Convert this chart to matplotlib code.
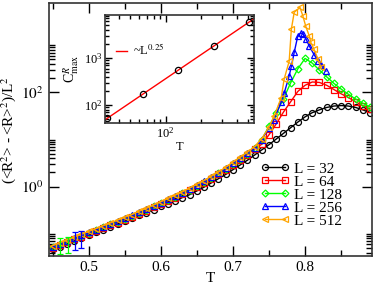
import math

import matplotlib
matplotlib.use("Agg")
import matplotlib.pyplot as plt
from matplotlib.ticker import FixedLocator, FuncFormatter, NullFormatter

plt.rcParams["font.family"] = ["Liberation Serif", "DejaVu Serif"]
plt.rcParams["mathtext.fontset"] = "stix"

# temperature grids
T_std = [0.45, 0.46, 0.47, 0.48, 0.49, 0.50, 0.51, 0.52, 0.53, 0.54,
         0.55, 0.56, 0.57, 0.58, 0.59, 0.60, 0.61, 0.62, 0.63, 0.64,
         0.65, 0.66, 0.67, 0.68, 0.69, 0.70, 0.71, 0.72, 0.73, 0.74,
         0.75, 0.76, 0.77, 0.78, 0.79, 0.80, 0.81, 0.82, 0.83, 0.84,
         0.85, 0.86, 0.87, 0.88, 0.89]
T_low = T_std[:30]
T_256_peak = [0.75, 0.757, 0.767, 0.771, 0.778, 0.781, 0.785, 0.790, 0.794,
              0.797, 0.801, 0.806, 0.8125, 0.818, 0.822, 0.829]
T_512_peak = [0.75, 0.757, 0.767, 0.771, 0.778, 0.781, 0.785, 0.793, 0.797,
              0.801, 0.806, 0.808, 0.8125, 0.818, 0.822]

# log10 of the fluctuation
log_32 = [-1.33, -1.27, -1.21, -1.15, -1.09, -1.03, -0.97, -0.91, -0.85, -0.79,
          -0.73, -0.67, -0.61, -0.55, -0.49, -0.42, -0.36, -0.30, -0.23, -0.17,
          -0.09, -0.01, 0.08, 0.17, 0.26, 0.36, 0.46, 0.56, 0.67, 0.78,
          0.89, 1.01, 1.13, 1.25, 1.37, 1.48, 1.57, 1.63, 1.68, 1.71,
          1.72, 1.71, 1.68, 1.63, 1.57]
log_64 = [-1.30, -1.24, -1.18, -1.12, -1.06, -1.00, -0.94, -0.88, -0.82, -0.76,
          -0.70, -0.64, -0.57, -0.51, -0.44, -0.37, -0.30, -0.23, -0.16, -0.08,
          0.00, 0.08, 0.17, 0.26, 0.36, 0.47, 0.57, 0.68, 0.80, 0.90,
          1.10, 1.33, 1.58, 1.80, 2.02, 2.15, 2.22, 2.21, 2.15, 2.06,
          1.97, 1.89, 1.80, 1.72, 1.65]
log_128 = [-1.28, -1.22, -1.16, -1.10, -1.04, -0.98, -0.92, -0.86, -0.80, -0.74,
           -0.68, -0.62, -0.55, -0.49, -0.42, -0.35, -0.28, -0.21, -0.14, -0.06,
           0.02, 0.10, 0.19, 0.28, 0.38, 0.49, 0.59, 0.70, 0.82, 1.00,
           1.28, 1.56, 1.86, 2.20, 2.50, 2.72, 2.62, 2.47, 2.33, 2.19,
           2.07, 1.96, 1.86, 1.77, 1.69]
log_256 = [-1.27, -1.21, -1.15, -1.09, -1.03, -0.97, -0.91, -0.85, -0.79, -0.73,
           -0.67, -0.61, -0.54, -0.48, -0.41, -0.34, -0.27, -0.20, -0.13, -0.05,
           0.03, 0.11, 0.20, 0.29, 0.39, 0.50, 0.60, 0.71, 0.83, 1.00,
           1.24, 1.42, 1.80, 1.98, 2.35, 2.55, 2.85, 3.20, 3.26, 3.24,
           3.14, 2.98, 2.80, 2.67, 2.58, 2.45]
log_512 = [-1.25, -1.19, -1.13, -1.07, -1.01, -0.95, -0.89, -0.83, -0.77, -0.71,
           -0.65, -0.59, -0.52, -0.46, -0.39, -0.32, -0.25, -0.18, -0.11, -0.03,
           0.05, 0.13, 0.22, 0.31, 0.41, 0.52, 0.62, 0.73, 0.85, 1.02,
           1.26, 1.49, 1.89, 2.28, 2.66, 3.34, 3.70, 3.80, 3.62, 3.40,
           3.19, 3.06, 2.91, 2.70, 2.53]

# a few visible error bars at low T (log10 low / high)
err_T_128 = [0.460, 0.471]
err_lo_128 = [-1.43, -1.40]
err_hi_128 = [-1.09, -1.06]
err_T_256 = [0.481, 0.490]
err_lo_256 = [-1.34, -1.30]
err_hi_256 = [-0.96, -0.93]

# inset: peak height vs system size
L_sizes = [32, 64, 128, 256, 512]
C_max = [53, 171, 556, 1800, 5900]
fit_L = [30.7, 562]
fit_C = [49, 6850]

series = [
    ("L = 32", T_std, log_32, "black", "o", 4.3),
    ("L = 64", T_std, log_64, "red", "s", 4.0),
    ("L = 128", T_std, log_128, "#00ff00", "D", 3.5),
    ("L = 256", T_low + T_256_peak, log_256, "blue", "^", 4.2),
    ("L = 512", T_low + T_512_peak, log_512, "orange", "<", 4.2),
]

fig = plt.figure(figsize=(3.74, 2.85), dpi=100)
ax = fig.add_axes([0.131, 0.102, 0.864, 0.887])

for label, t, lg, col, mk, ms in series:
    ax.plot(t, [10 ** v for v in lg], color=col, marker=mk, ms=ms,
            mfc="none", mec=col, mew=0.9, lw=1.0, label=label)

# low-T error bars
for t, lo, hi, col in [(err_T_128, err_lo_128, err_hi_128, "#00ff00"),
                       (err_T_256, err_lo_256, err_hi_256, "blue")]:
    for ti, a, b in zip(t, lo, hi):
        mid = 10 ** ((a + b) / 2)
        ax.errorbar([ti], [mid], yerr=[[mid - 10 ** a], [10 ** b - mid]],
                    fmt="none", ecolor=col, elinewidth=0.9, capsize=2, capthick=0.9)

ax.set_yscale("log")
ax.set_xlim(0.445, 0.893)
ax.set_ylim(0.034, 7800)
ax.set_xticks([0.5, 0.6, 0.7, 0.8])
ax.set_xticks([0.45, 0.55, 0.65, 0.75, 0.85], minor=True)
ax.xaxis.set_major_formatter(FuncFormatter(lambda v, p: f"{v:.1f}"))
ax.yaxis.set_major_locator(FixedLocator([1e-2, 1e0, 1e2, 1e4]))
ax.yaxis.set_major_formatter(FuncFormatter(lambda v, p: r"$10^{%d}$" % round(math.log10(v))))
ax.yaxis.set_minor_locator(FixedLocator([m * 10.0 ** k for k in (-2, 0, 2) for m in range(2, 11)]))
ax.yaxis.set_minor_formatter(NullFormatter())
ax.tick_params(which="both", direction="in", top=True, right=True, labelsize=11, width=1.0)
ax.tick_params(which="major", length=7, pad=4)
ax.tick_params(which="minor", length=4)
for sp in ax.spines.values():
    sp.set_linewidth(1.2)
    sp.set_color("#333333")
ax.set_xlabel("T", fontsize=11, labelpad=-2)
ax.set_ylabel(r"(<R$^2$> - <R>$^2$)/L$^2$", fontsize=11, labelpad=2)

ax.legend(loc="lower right", bbox_to_anchor=(0.94, 0.07), frameon=False,
          fontsize=11, numpoints=2, handlelength=1.9, handletextpad=0.3,
          labelspacing=-0.05, borderpad=0.2)

# inset
axi = fig.add_axes([0.281, 0.567, 0.398, 0.380])
axi.plot(fit_L, fit_C, color="red", lw=1.0, label=r"~L$^{0.25}$")
axi.plot(L_sizes, C_max, ls="none", marker="o", ms=4.5, mfc="none", mec="black", mew=0.9)
axi.set_xscale("log")
axi.set_yscale("log")
axi.set_xlim(30.7, 562)
axi.set_ylim(41, 8200)
axi.tick_params(which="both", direction="in", top=True, right=True, labelsize=9, width=1.0)
axi.tick_params(which="major", length=5, pad=2)
axi.tick_params(which="minor", length=3)
for sp in axi.spines.values():
    sp.set_linewidth(1.2)
    sp.set_color("#333333")
axi.set_xlabel("T", fontsize=9, labelpad=0)
axi.set_ylabel(r"C$^{R}_{\mathrm{max}}$", fontsize=10, labelpad=1)
axi.legend(loc="upper left", bbox_to_anchor=(0.02, 0.82), frameon=False,
           fontsize=9, handlelength=0.9, handletextpad=0.5, borderpad=0.1)

fig.savefig("out.png", dpi=100)
